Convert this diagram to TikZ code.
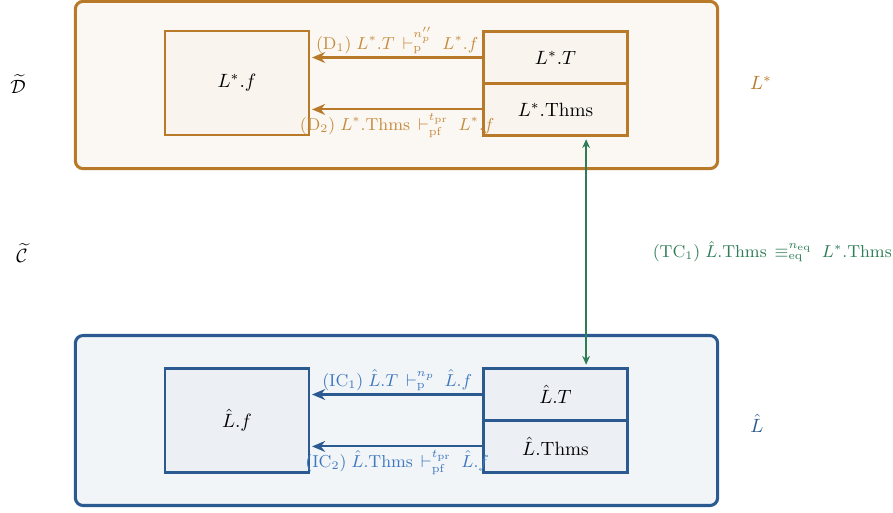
\documentclass[tikz,border=0pt]{standalone}
\usepackage{amsmath}
\usepackage{amssymb}
\usetikzlibrary{arrows.meta, positioning, calc}

\definecolor{specorange}{HTML}{B87A28}
\definecolor{speclabel}{HTML}{C68C3E}
\definecolor{implblue}{HTML}{2A5A90}
\definecolor{impllabel}{HTML}{3D78BE}
\definecolor{linkgreen}{HTML}{2F7D57}

\begin{document}
\begin{tikzpicture}[
  x=0.0183cm, y=-0.0183cm,
  layer/.style={rectangle, rounded corners=4pt, draw, line width=1.6pt,
                minimum width=11.75cm},
  cell/.style={rectangle, draw, line width=1.25pt, minimum width=2.64cm,
               inner sep=0pt, outer sep=0pt},
  half/.style={cell, minimum height=0.95cm},
  full/.style={cell, minimum height=1.9cm},
  arr/.style={-{Stealth[length=2.4mm, width=2mm]}, line width=1.1pt},
  lbl/.style={font=\small, inner sep=1.5pt}]
  \useasboundingbox (0,0) rectangle (893,512);

  % layers
  \node[layer, draw=specorange, fill=specorange!5, minimum height=3.06cm] (spec) at (396.5,85) {};
  \node[layer, draw=implblue, fill=implblue!6, minimum height=3.11cm] (impl) at (396.5,420.5) {};

  % specification side
  \node[full, draw=specorange, fill=specorange!8] (sf) at (237,83) {$L^*.f$};
  \node[half, draw=specorange, fill=specorange!8] (sT) at (555.5,57.5) {$L^*.T$};
  \node[half, draw=specorange, fill=specorange!8, anchor=north] (sThms) at (sT.south) {$L^*.\mathrm{Thms}$};

  % implementation side
  \node[full, draw=implblue, fill=implblue!9] (if) at (237,420.5) {$\hat{L}.f$};
  \node[half, draw=implblue, fill=implblue!9] (iT) at (555.5,394.5) {$\hat{L}.T$};
  \node[half, draw=implblue, fill=implblue!9, anchor=north] (iThms) at (iT.south) {$\hat{L}.\mathrm{Thms}$};

  \draw[arr, specorange] ([xshift=-0.5pt]sT.west) -- ([xshift=1.5pt]sf.east |- sT.west)
    node[lbl, midway, above, text=speclabel] {$(\mathrm{D}_1)\; L^*.T \,\vdash_{\mathrm{p}}^{n''_p}\; L^*.f$};
  \draw[arr, specorange] ([xshift=-0.5pt]sThms.west) -- ([xshift=1.5pt]sf.east |- sThms.west)
    node[lbl, midway, below, text=speclabel] {$(\mathrm{D}_2)\; L^*.\mathrm{Thms} \,\vdash_{\mathrm{pf}}^{t_{\mathrm{pr}}}\; L^*.f$};
  \draw[arr, implblue] ([xshift=-0.5pt]iT.west) -- ([xshift=1.5pt]if.east |- iT.west)
    node[lbl, midway, above, text=impllabel] {$(\mathrm{IC}_1)\; \hat{L}.T \,\vdash_{\mathrm{p}}^{n_p}\; \hat{L}.f$};
  \draw[arr, implblue] ([xshift=-0.5pt]iThms.west) -- ([xshift=1.5pt]if.east |- iThms.west)
    node[lbl, midway, below, text=impllabel] {$(\mathrm{IC}_2)\; \hat{L}.\mathrm{Thms} \,\vdash_{\mathrm{pf}}^{t_{\mathrm{pr}}}\; \hat{L}.f$};

  % correspondence
  \draw[{Stealth[length=1.6mm, width=1.4mm]}-{Stealth[length=1.6mm, width=1.4mm]}, line width=1pt, linkgreen]
    ([xshift=0.56cm, yshift=-2pt]sThms.south) -- ([xshift=0.56cm, yshift=2pt]iT.north)
    node[lbl, midway, right=1.15cm, text=linkgreen] {$(\mathrm{TC}_1)\; \hat{L}.\mathrm{Thms} \,\equiv_{\mathrm{eq}}^{n_{\mathrm{eq}}}\; L^*.\mathrm{Thms}$};

  % side labels
  \node (dlab) at (18,84) {$\widetilde{\mathcal{D}}$};
  \node (clab) at (22,253) {$\widetilde{\mathcal{C}}$};
  \node[text=specorange] (slab) at (761,83) {$L^*$};
  \node[text=implblue] (ilab) at (757,423) {$\hat{L}$};
\end{tikzpicture}
\end{document}
